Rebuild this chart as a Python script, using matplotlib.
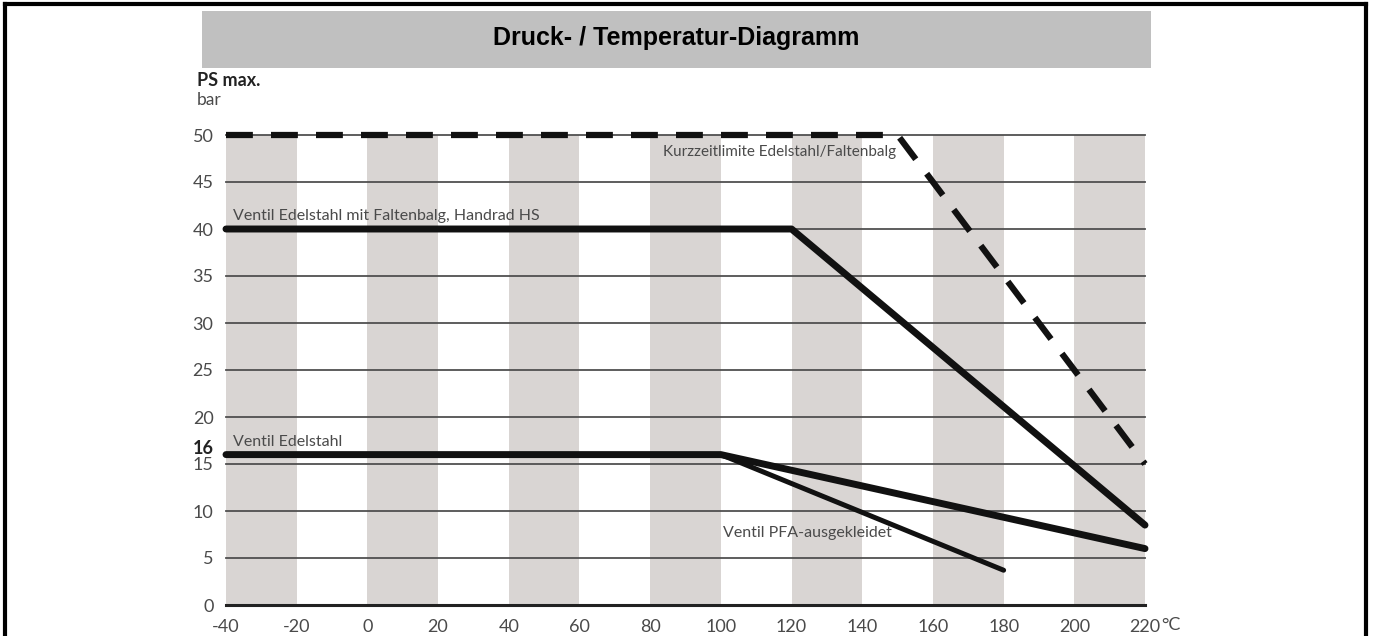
import numpy as np
import matplotlib.pyplot as plt
from matplotlib.patches import Rectangle

# Temperatur (°C) / Druck (bar)
kurz_t = [-40, 150, 220]
kurz_p = [50, 50, 15]

balg_t = [-40, 120, 220]
balg_p = [40, 40, 8.5]

edel_t = [-40, 100, 160, 220]
edel_p = [16, 16, 11, 6]

pfa_t = [100, 180]
pfa_p = [16, 3.7]

stripes = [-40, 0, 40, 80, 120, 160, 200]
xticks = [-40, -20, 0, 20, 40, 60, 80, 100, 120, 140, 160, 180, 200, 220]
xticklabels = ['-40', '-20', '0', '20', '40', '60', '80', '100', '120',
               '140', '160', '180', '200', '220']
yticks = [0, 5, 10, 15, 20, 25, 30, 35, 40, 45, 50]

W, H = 1373, 636
fig = plt.figure(figsize=(W / 100, H / 100), dpi=100)
fig.patch.set_facecolor('white')

# outer frame
fig.add_artist(plt.Line2D([4.5 / W, 4.5 / W], [0, 1 - 4 / H], color='black', lw=3,
                          transform=fig.transFigure, solid_capstyle='projecting'))
fig.add_artist(plt.Line2D([4.5 / W, 1365.5 / W], [1 - 4 / H, 1 - 4 / H], color='black', lw=3,
                          transform=fig.transFigure, solid_capstyle='projecting'))
fig.add_artist(plt.Line2D([1365.5 / W, 1365.5 / W], [0, 1 - 4 / H], color='black', lw=3,
                          transform=fig.transFigure, solid_capstyle='projecting'))

# title box
fig.add_artist(Rectangle((202 / W, 1 - 68 / H), 949 / W, 57 / H, transform=fig.transFigure,
                         facecolor='#c0c0c0', edgecolor='none'))
fig.text(676.5 / W, 1 - 38 / H, 'Druck- / Temperatur-Diagramm', ha='center', va='center',
         fontsize=18, fontweight='bold', family='Liberation Sans')

ax = fig.add_axes([226 / W, 1 - 605 / H, (1145 - 226) / W, (605 - 135) / H])
ax.set_xlim(-40, 220)
ax.set_ylim(0, 50)

font = 'Lato'
grey = '#4a4a4a'

for s in stripes:
    ax.axvspan(s, s + 20, color='#d9d5d3', lw=0, zorder=0)

for y in yticks[1:]:
    ax.axhline(y, color='#505050', lw=1.3, zorder=1, clip_on=False)
ax.axhline(0, color='#222222', lw=2.2, zorder=1, clip_on=False)

for sp in ax.spines.values():
    sp.set_visible(False)

ax.set_xticks(xticks)
ax.set_xticklabels(xticklabels, family=font, fontsize=13, color=grey)
ax.set_yticks(yticks)
ax.set_yticklabels([str(v) for v in yticks], family=font, fontsize=13, color=grey)
ax.tick_params(length=0)
ax.tick_params(axis='x', pad=10)
ax.tick_params(axis='y', pad=9)
fig.text(1161 / W, 1 - 625 / H, '°C', family=font, fontsize=13, color=grey,
         ha='left', va='center')
ax.text(-43.4, 16.7, '16', family=font, fontsize=13, fontweight='bold', color='#222222',
        ha='right', va='center', clip_on=False)

# curves
ax.plot(kurz_t, kurz_p, color='#111111', lw=4.5, dashes=(4.3, 2.9), dash_capstyle='butt',
        zorder=3, clip_on=False)
ax.plot(balg_t, balg_p, color='#111111', lw=5, solid_capstyle='round', zorder=3, clip_on=False)
ax.plot(edel_t, edel_p, color='#111111', lw=5, solid_capstyle='round', zorder=3, clip_on=False)
ax.plot(pfa_t, pfa_p, color='#111111', lw=3.6, solid_capstyle='round', zorder=3, clip_on=False)

# labels
lab = dict(family=font, fontsize=11.5, color=grey, ha='left', va='center')
ax.text(83.6, 48.2, 'Kurzzeitlimite Edelstahl/Faltenbalg', **dict(lab, fontsize=11))
ax.text(-38, 41.4, 'Ventil Edelstahl mit Faltenbalg, Handrad HS', **lab)
ax.text(-38, 17.3, 'Ventil Edelstahl', **lab)
ax.text(100.6, 7.7, 'Ventil PFA-ausgekleidet', **lab)

fig.text(197 / W, 1 - 80 / H, 'PS max.', family=font, fontsize=13, fontweight='bold',
         color='#222222', ha='left', va='center')
fig.text(197 / W, 1 - 100 / H, 'bar', family=font, fontsize=12.5, color=grey,
         ha='left', va='center')

fig.savefig('out.png', dpi=100)
